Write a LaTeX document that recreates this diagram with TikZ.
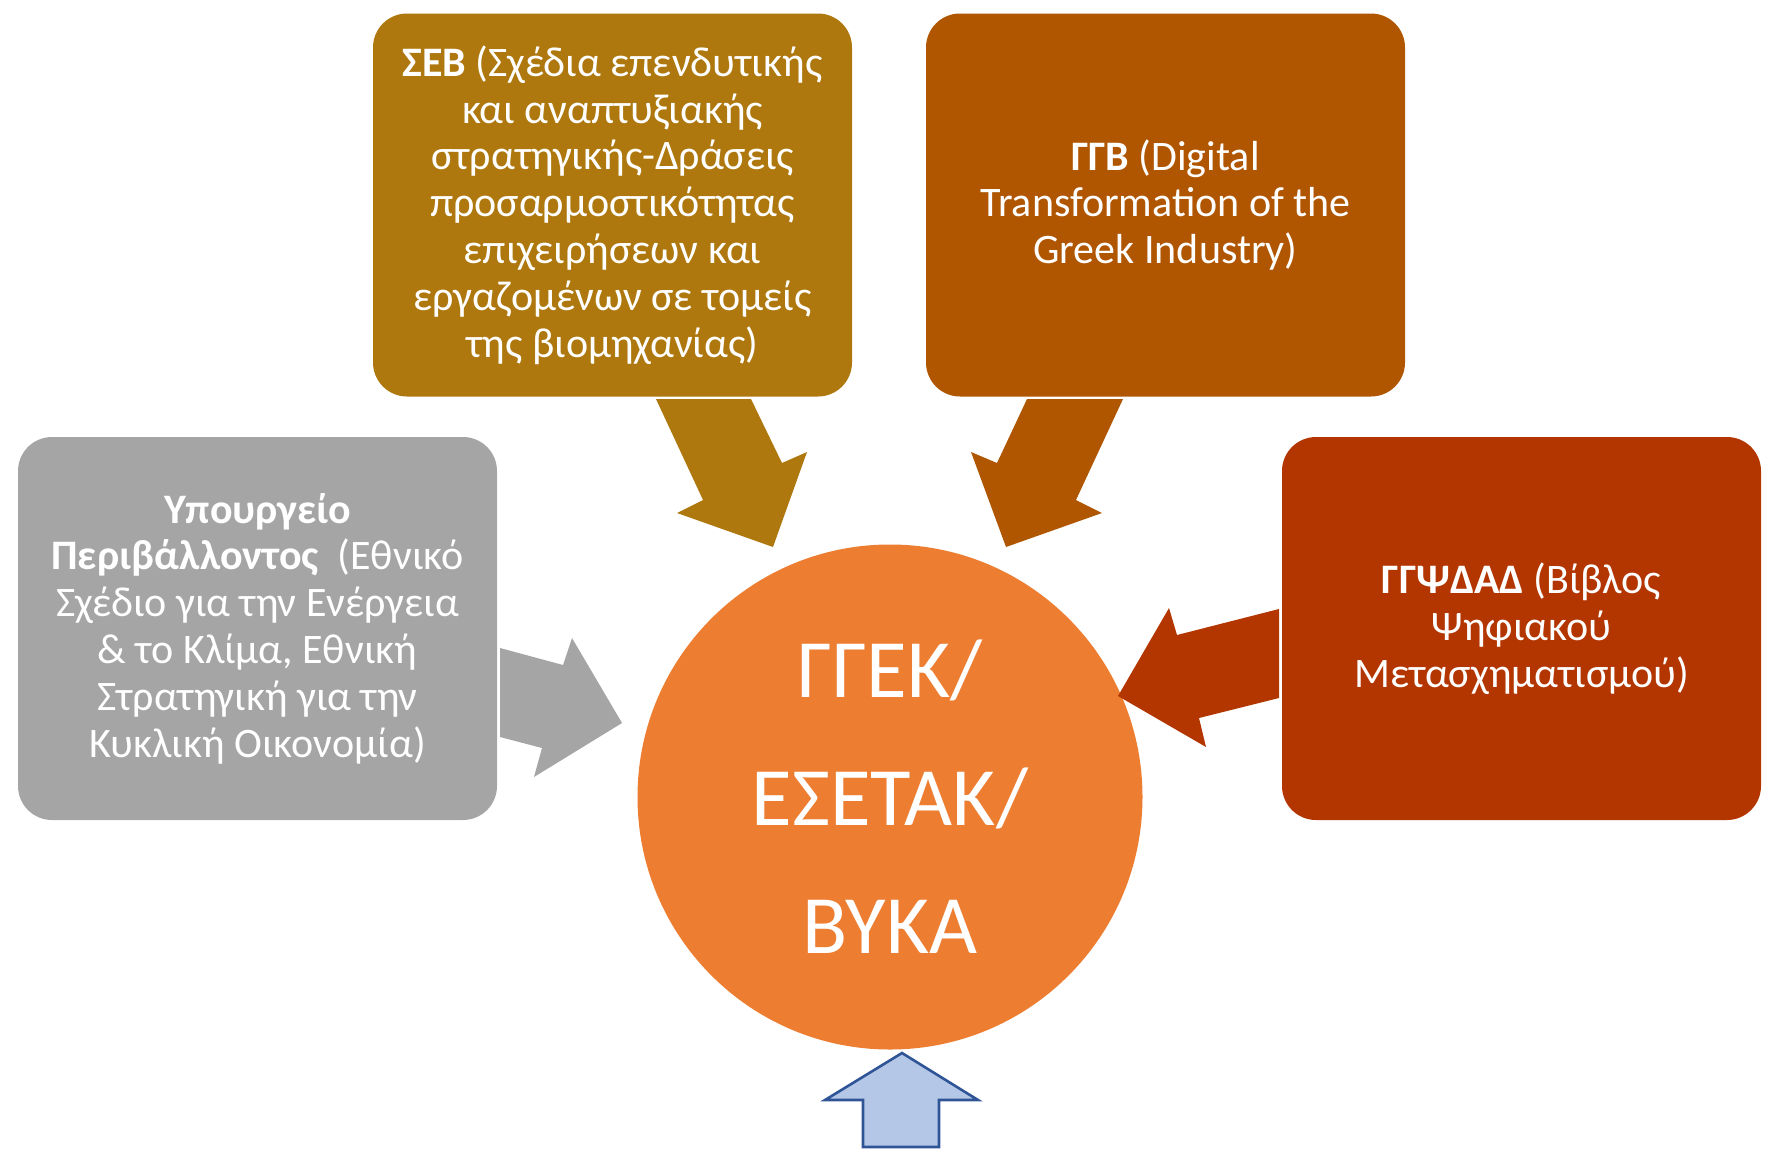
\documentclass[tikz,border=0pt]{standalone}
\usepackage{fontspec}
\setmainfont{Carlito}
\definecolor{sebgold}{HTML}{AE780E}
\definecolor{ggbrust}{HTML}{B05500}
\definecolor{ggpsred}{HTML}{B33500}
\definecolor{ministrygray}{HTML}{A5A5A5}
\definecolor{centerorange}{HTML}{ED7D31}
\definecolor{upfill}{HTML}{B4C7E7}
\definecolor{upline}{HTML}{2F5597}

\tikzstyle{srcbox}=[rectangle,
                    rounded corners=17pt,
                    minimum width=239.5pt,
                    minimum height=191.5pt,
                    inner sep=0pt,
                    align=center,
                    text=white,
                    font=\fontsize{21}{23.4}\selectfont]
\tikzstyle{hub}=[circle,
                 fill=centerorange,
                 minimum size=252.5pt,
                 inner sep=0pt,
                 align=center,
                 text=white,
                 font=\fontsize{41.5}{64}\selectfont]
\tikzstyle{blockarrow}=[draw=none]

\begin{document}
\begin{tikzpicture}[x=0.5pt,y=-0.5pt]
    \useasboundingbox (0,0) rectangle (1768,1152);

    % sources
    \node [srcbox, fill=sebgold] (seb) at (612.5,205)
        {\textbf{ΣΕΒ} (Σχέδια επενδυτικής\\και αναπτυξιακής\\στρατηγικής-Δράσεις\\προσαρμοστικότητας\\επιχειρήσεων και\\εργαζομένων σε τομείς\\της βιομηχανίας)};
    \node [srcbox, fill=ggbrust] (ggb) at (1165.5,205)
        {\textbf{ΓΓΒ} (Digital\\Transformation of the\\Greek Industry)};
    \node [srcbox, fill=ministrygray] (ypen) at (257.5,628.5)
        {\textbf{Υπουργείο}\\\textbf{Περιβάλλοντος}\ \ (Εθνικό\\Σχέδιο για την Ενέργεια\\\& το Κλίμα, Εθνική\\Στρατηγική για την\\Κυκλική Οικονομία)};
    \node [srcbox, fill=ggpsred] (ggps) at (1521.5,628.5)
        {\textbf{ΓΓΨΔΑΔ} (Βίβλος\\Ψηφιακού\\Μετασχηματισμού)};

    % centre
    \node [hub] (gsrt) at (890,797) {ΓΓΕΚ/\\ΕΣΕΤΑΚ/\\ΒΥΚΑ};

    % block arrows
    \fill [blockarrow, sebgold] (656,399) -- (751,399) -- (782,463) -- (807,452)
        -- (773,547) -- (677,513) -- (703,500) -- cycle;
    \fill [blockarrow, ggbrust] (1027,399) -- (1123,399) -- (1076,500) -- (1102,513)
        -- (1006,547) -- (971,452) -- (997,463) -- cycle;
    \fill [blockarrow, ministrygray] (500,648) -- (563,665) -- (572,638) -- (622,723)
        -- (534,777) -- (542,748) -- (500,737) -- cycle;
    \fill [blockarrow, ggpsred] (1279,609) -- (1177,635) -- (1169,608) -- (1118,696)
        -- (1206,747) -- (1199,718) -- (1279,698) -- cycle;
    \filldraw [fill=upfill, draw=upline, line width=1.3pt, line join=miter]
        (902,1053) -- (978,1100) -- (939,1100) -- (939,1147) -- (863,1147)
        -- (863,1100) -- (825,1100) -- cycle;
\end{tikzpicture}
\end{document}
